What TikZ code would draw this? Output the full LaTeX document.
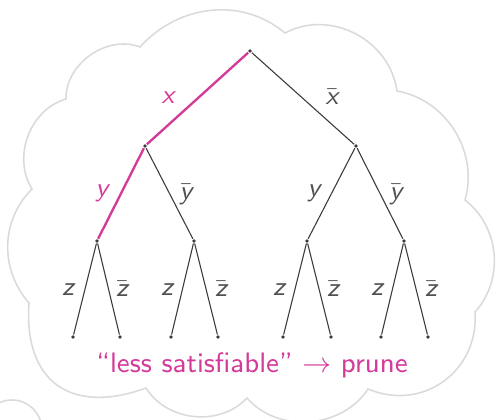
\documentclass[tikz,border=0pt]{standalone}
\usepackage{amsmath}
\usepackage{tikz}
\renewcommand{\familydefault}{\sfdefault}
\definecolor{pick}{RGB}{212,58,152}
\definecolor{treegray}{RGB}{60,60,60}
\definecolor{labgray}{RGB}{80,80,80}
\definecolor{cloudgray}{RGB}{218,218,218}
\tikzstyle{dot}=[circle, fill=treegray, minimum size=1.2pt, inner sep=0pt]
\tikzstyle{edge}=[treegray, line width=0.35pt]
\tikzstyle{chosen}=[pick, line width=0.75pt]
\tikzstyle{lbl}=[font=\fontsize{8.5}{10}\selectfont, text=labgray, inner sep=0pt]
\tikzstyle{picklbl}=[font=\fontsize{8.5}{10}\selectfont, text=pick, inner sep=0pt]
\newcommand{\lit}[1]{\text{\sffamily\itshape #1}}
\newcommand{\nlit}[1]{\bar{\text{\sffamily\itshape #1}}}

\begin{document}
\begin{tikzpicture}[x=0.32pt,y=-0.32pt]
        \useasboundingbox (0,0) rectangle (496,420);
            % thought cloud
            \draw [cloudgray, line width=0.5pt] (140,47) to[out=48,in=140] (285,33)
                to[out=28,in=98,looseness=1.05] (397,91)
                to[out=-10,in=74] (465,200)
                to[out=-38,in=48] (475,312)
                to[out=-86,in=-23,looseness=1.15] (368,389)
                to[out=-123,in=-49] (247,398)
                to[out=-133,in=-58] (146,388)
                to[out=200,in=266,looseness=1.4] (29,303)
                to[out=131,in=225] (32,189)
                to[out=122,in=196] (66,99)
                to[out=91,in=159] cycle;
            \draw [cloudgray, line width=0.5pt] (12,430) circle [radius=30];
            % tree
            \node [dot] (r) at (250,51) {};
            \node [dot] (a) at (145,146) {};
            \node [dot] (b) at (356,146) {};
            \node [dot] (aa) at (97,241) {};
            \node [dot] (ab) at (194,241) {};
            \node [dot] (ba) at (307,241) {};
            \node [dot] (bb) at (404,241) {};
            \node [dot] (aaa) at (73,337) {};
            \node [dot] (aab) at (120,337) {};
            \node [dot] (aba) at (171,337) {};
            \node [dot] (abb) at (218,337) {};
            \node [dot] (baa) at (283,337) {};
            \node [dot] (bab) at (331,337) {};
            \node [dot] (bba) at (381,337) {};
            \node [dot] (bbb) at (428,337) {};
            \draw [chosen] (r) -- (a) -- (aa);
            \draw [edge] (r) -- (b);
            \draw [edge] (a) -- (ab);
            \draw [edge] (b) -- (ba);
            \draw [edge] (b) -- (bb);
            \draw [edge] (aaa) -- (aa) -- (aab);
            \draw [edge] (aba) -- (ab) -- (abb);
            \draw [edge] (baa) -- (ba) -- (bab);
            \draw [edge] (bba) -- (bb) -- (bbb);
            % literals
            \node [picklbl] (lx) at (168,98) {$\lit{x}$};
            \node [lbl] (lnx) at (332,97) {$\nlit{x}$};
            \node [picklbl] (ly1) at (102,193) {$\lit{y}$};
            \node [lbl] (lny1) at (186,195) {$\nlit{y}$};
            \node [lbl] (ly2) at (314,193) {$\lit{y}$};
            \node [lbl] (lny2) at (396,195) {$\nlit{y}$};
            \node [lbl] (lz1) at (68,290) {$\lit{z}$};
            \node [lbl] (lnz1) at (122,289) {$\nlit{z}$};
            \node [lbl] (lz2) at (167,290) {$\lit{z}$};
            \node [lbl] (lnz2) at (221,289) {$\nlit{z}$};
            \node [lbl] (lz3) at (279,290) {$\lit{z}$};
            \node [lbl] (lnz3) at (333,289) {$\nlit{z}$};
            \node [lbl] (lz4) at (377,290) {$\lit{z}$};
            \node [lbl] (lnz4) at (431,289) {$\nlit{z}$};
            \node [text=pick, anchor=base, font=\fontsize{9}{11}\selectfont] (msg) at (252,372) {“less satisfiable” $\rightarrow$ prune};
        \end{tikzpicture}
\end{document}
